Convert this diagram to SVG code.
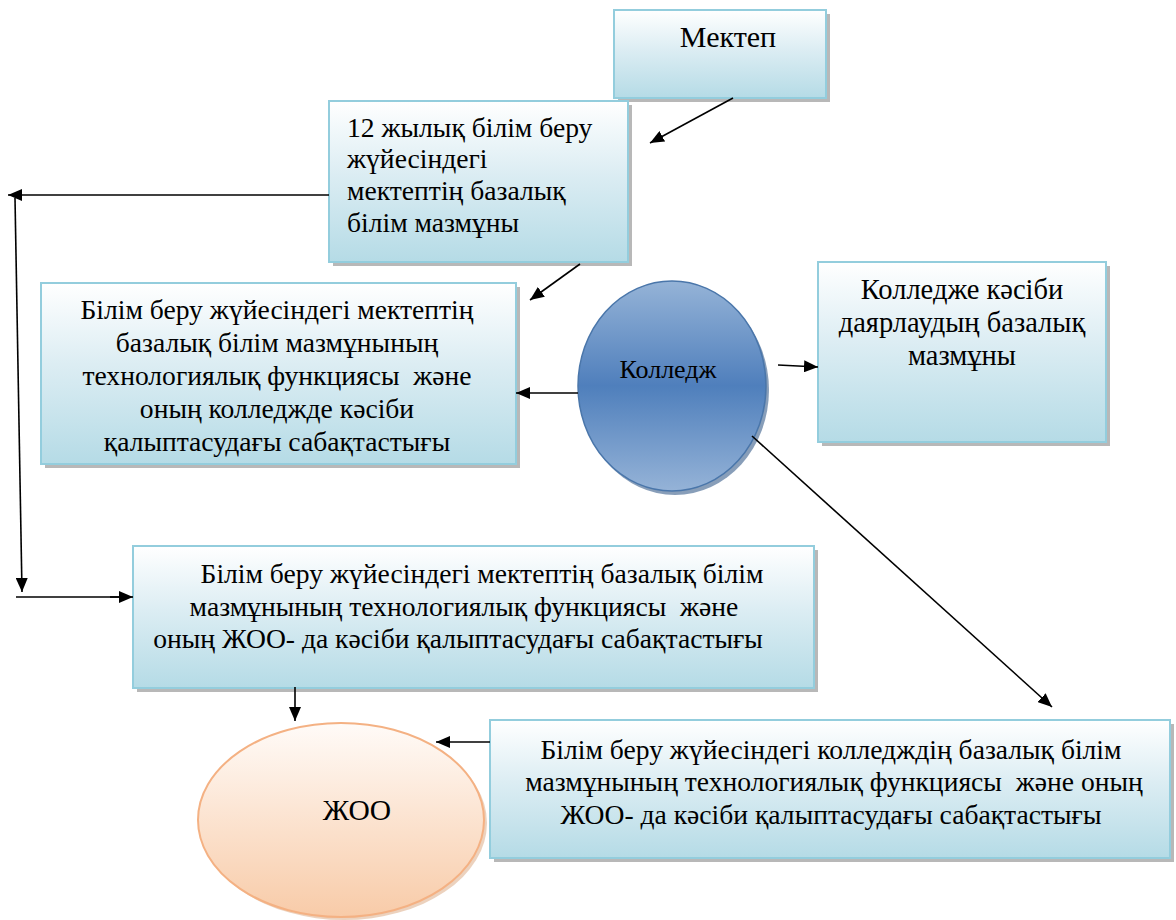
<svg xmlns="http://www.w3.org/2000/svg" width="1176" height="920" viewBox="0 0 1176 920" font-family="'Liberation Serif', serif" font-size="27.6">
<style>
.box{fill:url(#gBox);stroke:#93cddd;stroke-width:2}
.sh{fill:#a6a6a6;opacity:.8}
.c{text-anchor:middle}
.ln{stroke:#000;stroke-width:1.6;fill:none;marker-end:url(#ah)}
</style>
<defs>
<linearGradient id="gBox" x1="0" y1="0" x2="0" y2="1">
<stop offset="0" stop-color="#ffffff"/>
<stop offset="0.45" stop-color="#dcedf3"/>
<stop offset="1" stop-color="#b5dbe6"/>
</linearGradient>
<linearGradient id="gBlue" x1="0" y1="0" x2="0" y2="1">
<stop offset="0" stop-color="#95b3d7"/>
<stop offset="0.5" stop-color="#4f7fbc"/>
<stop offset="1" stop-color="#95b3d7"/>
</linearGradient>
<linearGradient id="gPeach" x1="0" y1="0" x2="0" y2="1">
<stop offset="0" stop-color="#fffbf8"/>
<stop offset="1" stop-color="#f8cba8"/>
</linearGradient>
<marker id="ah" viewBox="0 0 14 12" refX="14" refY="6" markerWidth="14" markerHeight="12" markerUnits="userSpaceOnUse" orient="auto">
<path d="M0,0 L14,6 L0,12 z" fill="#000"/>
</marker>
</defs>

<g id="node-mektep">
<rect class="sh" x="618" y="14" width="212" height="88"/>
<rect class="box" x="614" y="10" width="212" height="88"/>
<text class="c" x="728" y="47" font-size="30">Мектеп</text>
</g>

<g id="node-12">
<rect class="sh" x="333" y="105" width="299" height="161"/>
<rect class="box" x="329" y="101" width="299" height="161"/>
<text x="347" y="137">12 жылық білім беру</text>
<text x="347" y="168">жүйесіндегі</text>
<text x="347" y="200">мектептің базалық</text>
<text x="347" y="232">білім мазмұны</text>
</g>

<g id="node-tech-college">
<rect class="sh" x="45" y="287" width="475" height="181"/>
<rect class="box" x="41" y="283" width="475" height="181"/>
<text class="c" x="277" y="319">Білім беру жүйесіндегі мектептің</text>
<text class="c" x="277" y="352">базалық білім мазмұнының</text>
<text class="c" x="277" y="385" xml:space="preserve">технологиялық функциясы  және</text>
<text class="c" x="277" y="418">оның колледжде кәсіби</text>
<text class="c" x="277" y="451">қалыптасудағы сабақтастығы</text>
</g>

<g id="node-college-prof">
<rect class="sh" x="822" y="266" width="288" height="180"/>
<rect class="box" x="818" y="262" width="288" height="180"/>
<text class="c" x="962" y="299" font-size="28.5">Колледже кәсіби</text>
<text class="c" x="962" y="332" font-size="28.5">даярлаудың базалық</text>
<text class="c" x="962" y="365" font-size="28.5">мазмұны</text>
</g>

<g id="node-college">
<ellipse cx="675" cy="390" rx="94" ry="105" fill="#385d8a" opacity="0.6"/>
<ellipse cx="672" cy="386" rx="94" ry="105" fill="url(#gBlue)" stroke="#4a76aa" stroke-width="1.5"/>
<text class="c" x="668" y="378" font-size="26">Колледж</text>
</g>

<g id="node-tech-zoo">
<rect class="sh" x="137" y="550" width="681" height="142"/>
<rect class="box" x="133" y="546" width="681" height="142"/>
<text class="c" x="482" y="583">Білім беру жүйесіндегі мектептің базалық білім</text>
<text class="c" x="464" y="616" xml:space="preserve">мазмұнының технологиялық функциясы  және</text>
<text class="c" x="458" y="648">оның ЖОО- да кәсіби қалыптасудағы сабақтастығы</text>
</g>

<g id="node-college-zoo">
<rect class="sh" x="494" y="724" width="680" height="138"/>
<rect class="box" x="490" y="720" width="680" height="138"/>
<text class="c" x="831" y="759">Білім беру жүйесіндегі колледждің базалық білім</text>
<text class="c" x="834" y="791" xml:space="preserve">мазмұнының технологиялық функциясы  және оның</text>
<text class="c" x="831" y="824">ЖОО- да кәсіби қалыптасудағы сабақтастығы</text>
</g>

<g id="node-zoo">
<ellipse cx="344" cy="823" rx="143" ry="97" fill="#d9a67e" opacity="0.5"/>
<ellipse cx="341" cy="820" rx="143" ry="97" fill="url(#gPeach)" stroke="#f4b183" stroke-width="2"/>
<text class="c" x="357" y="820" font-size="29.5">ЖОО</text>
</g>

<g id="connectors">
<line class="ln" x1="733" y1="98" x2="650" y2="143"/>
<line class="ln" x1="329" y1="195" x2="8" y2="195"/>
<line class="ln" x1="15" y1="198" x2="22" y2="592"/>
<line x1="16" y1="597" x2="120" y2="597" stroke="#000" stroke-width="1.6"/>
<line class="ln" x1="110" y1="597" x2="133" y2="597"/>
<line class="ln" x1="580" y1="264" x2="530" y2="300"/>
<line class="ln" x1="578" y1="393" x2="516" y2="393"/>
<line class="ln" x1="778" y1="365" x2="818" y2="367"/>
<line class="ln" x1="752" y1="436" x2="1052" y2="707"/>
<line class="ln" x1="295" y1="687" x2="295" y2="721"/>
<line class="ln" x1="490" y1="742" x2="436" y2="742"/>
</g>
</svg>
